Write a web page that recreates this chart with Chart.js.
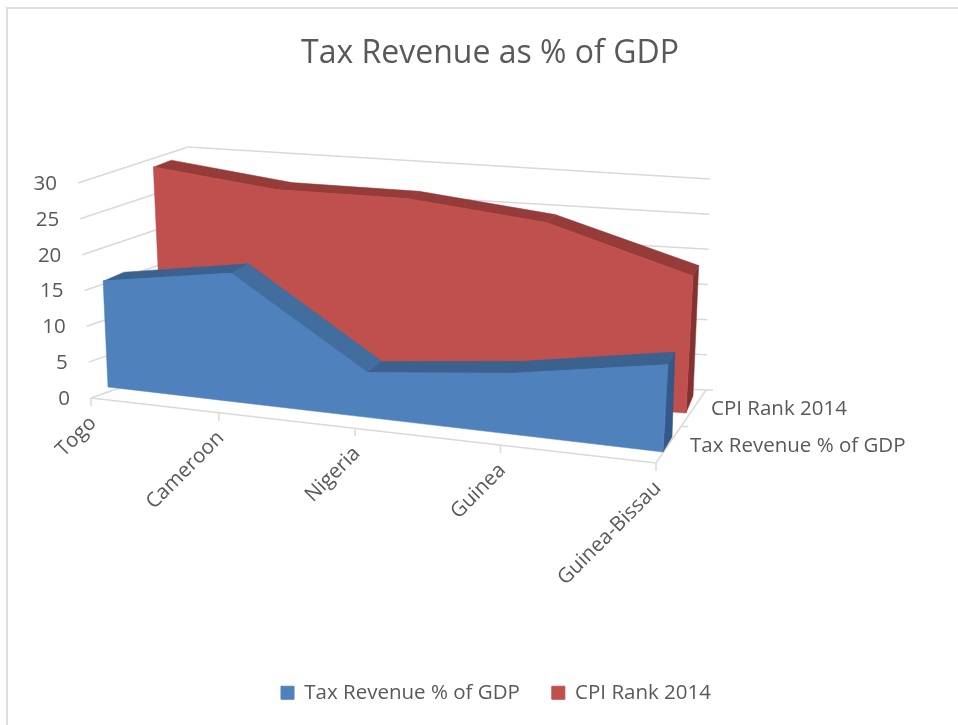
<!DOCTYPE html>
<html>
<head>
<meta charset="utf-8">
<title>Tax Revenue as % of GDP</title>
<script src="https://cdn.jsdelivr.net/npm/chart.js@4/dist/chart.umd.min.js"></script>
<style>
html, body { margin: 0; padding: 0; background: #fff; overflow: hidden; height: 725px; }
#frame { position: absolute; left: 6px; top: 7px; right: -5px; bottom: -5px; border: 2px solid #e0e0e0; }
canvas { position: absolute; left: 0; top: 0; }
</style>
</head>
<body>
<div id="frame"></div>
<canvas id="chart" width="980" height="725"></canvas>
<script>
var countries = ["Togo", "Cameroon", "Nigeria", "Guinea", "Guinea-Bissau"];
var taxRevenue = [14.7, 17.4, 5.9, 7.8, 10.9];
var cpiRank = [29, 27, 27, 25, 19];
var seriesNames = ["Tax Revenue % of GDP", "CPI Rank 2014"];

var TEXT = "#595959";
var GRID = "#d9d9d9";
var FONT = "'Open Sans', sans-serif";

// spacing of the categories gets wider towards the viewer
var SPREAD = 1.14;

// the slanted planes of the 3d box: bl/br at value 0, tl/tr at the axis maximum
var PLANES = [
    {
        front: { bl: [108, 387], br: [663, 452], tl: [98, 171], tr: [677, 212] },
        back: { bl: [128, 378], br: [672, 437], tl: [120, 162], tr: [680, 203] },
        face: "#4f81bd", top: "#3b618f", steep: "#426d9f", side: "#33588a"
    },
    {
        front: { bl: [163, 374], br: [686, 413], tl: [153, 160], tr: [697, 197] },
        back: { bl: [181, 367], br: [693, 396], tl: [171, 153], tr: [702, 190] },
        face: "#c0504d", top: "#953b3a", steep: "#953b3a", side: "#843231"
    }
];
var LEFT_WALL = { bl: [91, 398], br: [187, 364], tl: [78, 183], tr: [188, 147] };
var BACK_WALL = { bl: [187, 364], br: [706, 390], tl: [188, 147], tr: [710, 179] };

function lerp(a, b, t) {
    return [a[0] + (b[0] - a[0]) * t, a[1] + (b[1] - a[1]) * t];
}

/**
 * Maps a position on a plane to the page
 * @param object plane corners
 * @param number u 0..1 along the category axis
 * @param number v 0..1 along the value axis
 */
function project(plane, u, v) {
    var t = u / (u + SPREAD * (1 - u));
    return lerp(lerp(plane.bl, plane.br, t), lerp(plane.tl, plane.tr, t), v);
}

function uOf(chart, i) {
    var x = chart.scales.x;
    return (x.getPixelForValue(i) - x.left) / x.width;
}

function vOf(chart, value) {
    var y = chart.scales.y;
    return (y.bottom - y.getPixelForValue(value)) / y.height;
}

function polygon(ctx, pts, color) {
    ctx.beginPath();
    ctx.moveTo(pts[0][0], pts[0][1]);
    for (var i = 1; i < pts.length; i++) {
        ctx.lineTo(pts[i][0], pts[i][1]);
    }
    ctx.closePath();
    ctx.fillStyle = color;
    ctx.fill();
    ctx.strokeStyle = color;
    ctx.lineWidth = 0.5;
    ctx.stroke();
}

function segment(ctx, a, b) {
    ctx.beginPath();
    ctx.moveTo(a[0], a[1]);
    ctx.lineTo(b[0], b[1]);
    ctx.stroke();
}

/**
 * Walls, floor, axis ticks and axis labels of the box
 */
function drawBox(chart) {
    var ctx = chart.ctx;
    var yTicks = chart.scales.y.ticks;
    var n = countries.length;
    ctx.save();
    ctx.strokeStyle = GRID;
    ctx.lineWidth = 1.5;
    ctx.fillStyle = TEXT;
    ctx.font = "20.5px " + FONT;

    yTicks.forEach(function(tick) {
        var v = vOf(chart, tick.value);
        var front = project(LEFT_WALL, 0, v);
        var corner = lerp(LEFT_WALL.br, LEFT_WALL.tr, v);
        segment(ctx, front, corner);
        segment(ctx, corner, lerp(BACK_WALL.br, BACK_WALL.tr, v));
        ctx.textAlign = "right";
        ctx.textBaseline = "middle";
        ctx.fillText(tick.label, front[0] - 21, front[1] + 1);
    });

    // floor edges
    var fl = [91, 398];
    var fr = [656, 463];
    segment(ctx, fl, fr);
    segment(ctx, fr, BACK_WALL.br);

    for (var i = 0; i < n; i++) {
        var t = uOf(chart, i);
        t = t / (t + SPREAD * (1 - t));
        var p = lerp(fl, fr, t);
        segment(ctx, p, [p[0], p[1] + 8]);
        ctx.save();
        ctx.translate(p[0] + 2, p[1] + 22);
        ctx.rotate(-Math.PI / 4);
        ctx.textAlign = "right";
        ctx.textBaseline = "middle";
        ctx.fillText(countries[i], 0, 0);
        ctx.restore();
    }

    // depth axis, one label per series
    seriesNames.forEach(function(name, s) {
        var p = lerp(fr, BACK_WALL.br, (s + 0.5) / seriesNames.length);
        ctx.textAlign = "left";
        ctx.textBaseline = "middle";
        ctx.fillText(name, p[0] + 21.5 - 4 * s, p[1] + 1);
    });
    var mid = lerp(fr, BACK_WALL.br, 0.5);
    segment(ctx, mid, [mid[0] + 7, mid[1]]);
    segment(ctx, BACK_WALL.br, [BACK_WALL.br[0] + 7, BACK_WALL.br[1]]);
    ctx.restore();
}

/**
 * Face, top strip and side of one area
 */
function drawArea(chart, index) {
    var ctx = chart.ctx;
    var meta = chart.getDatasetMeta(index);
    var values = chart.data.datasets[index].data;
    var plane = PLANES[index];
    var last = values.length - 1;
    var i;

    var backTop = values.map(function(v, k) {
        return project(plane.back, uOf(chart, k), vOf(chart, v));
    });
    var frontTop = meta.data.map(function(pt) {
        return [pt.x, pt.y];
    });

    // right hand side of the slab
    polygon(ctx, [
        frontTop[last], backTop[last],
        project(plane.back, 1, 0), project(plane.front, 1, 0)
    ], plane.side);

    // strips along the top edge, falling stretches catch more light
    for (i = 0; i < last; i++) {
        var steep = frontTop[i + 1][1] - frontTop[i][1] > 60;
        polygon(ctx, [frontTop[i], backTop[i], backTop[i + 1], frontTop[i + 1]],
            steep ? plane.steep : plane.top);
    }

    // front face down to the zero line
    var face = frontTop.slice();
    for (i = last; i >= 0; i--) {
        face.push(project(plane.front, uOf(chart, i), 0));
    }
    polygon(ctx, face, plane.face);
}

var box3d = {
    id: "box3d",
    afterLayout: function(chart) {
        // the legend sits a little right of the title
        chart.legend.left += 6;
        chart.legend.right += 6;
    },
    afterDatasetsUpdate: function(chart) {
        // move the line points from the flat plot onto their slanted plane
        chart.data.datasets.forEach(function(ds, index) {
            chart.getDatasetMeta(index).data.forEach(function(pt, i) {
                var p = project(PLANES[index].front, uOf(chart, i), vOf(chart, ds.data[i]));
                pt.x = p[0];
                pt.y = p[1];
            });
        });
    },
    beforeDatasetsDraw: function(chart) {
        drawBox(chart);
    },
    beforeDatasetDraw: function(chart, args) {
        drawArea(chart, args.index);
    }
};

new Chart(document.getElementById("chart").getContext("2d"), {
    type: "line",
    plugins: [box3d],
    data: {
        labels: countries,
        datasets: [
            {
                label: seriesNames[0],
                data: taxRevenue,
                backgroundColor: PLANES[0].face,
                borderColor: PLANES[0].face,
                borderWidth: 1,
                pointRadius: 0,
                fill: false,
                clip: false
            },
            {
                label: seriesNames[1],
                data: cpiRank,
                backgroundColor: PLANES[1].face,
                borderColor: PLANES[1].face,
                borderWidth: 1,
                pointRadius: 0,
                fill: false,
                clip: false
            }
        ]
    },
    options: {
        responsive: false,
        animation: false,
        layout: { padding: { bottom: 12 } },
        scales: {
            x: { display: false },
            y: { display: false, min: 0, max: 30, ticks: { stepSize: 5 } }
        },
        plugins: {
            tooltip: { enabled: false },
            title: {
                display: true,
                text: "Tax Revenue as % of GDP",
                color: TEXT,
                font: { family: FONT, size: 32, weight: "normal" },
                padding: { top: 35, bottom: 10 }
            },
            legend: {
                position: "bottom",
                labels: {
                    color: TEXT,
                    font: { family: FONT, size: 20.5 },
                    boxWidth: 13,
                    boxHeight: 13,
                    padding: 32
                }
            }
        }
    }
});
</script>
</body>
</html>
